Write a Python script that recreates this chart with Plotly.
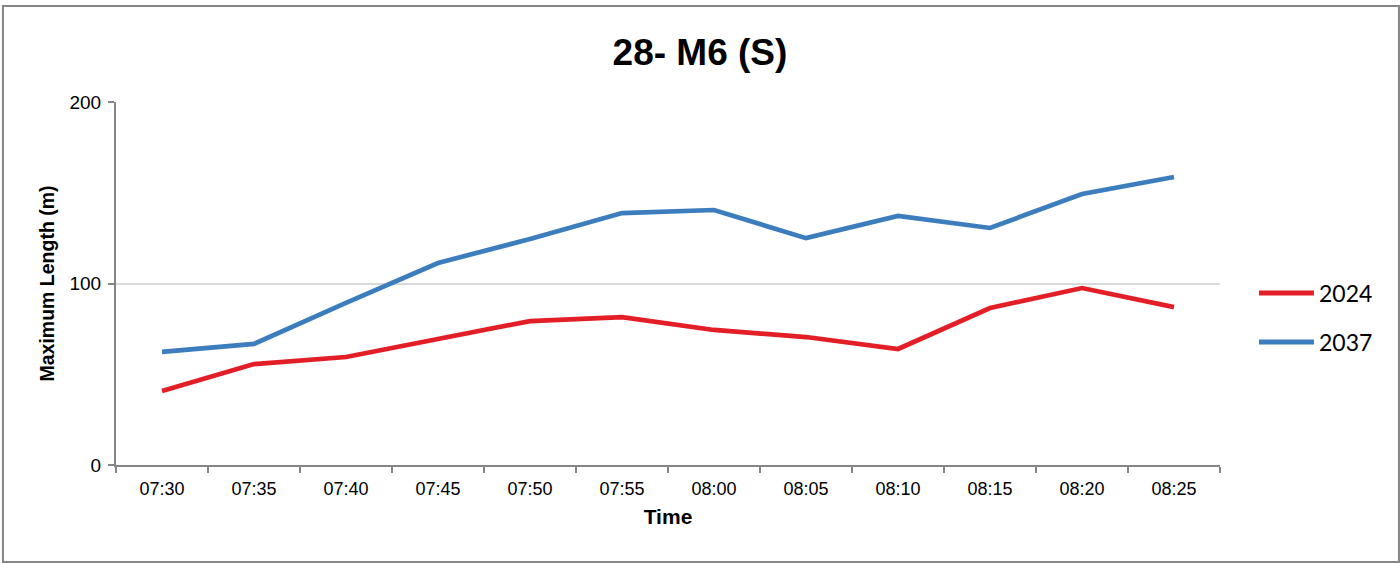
import plotly.graph_objects as go

times = ['07:30', '07:35', '07:40', '07:45', '07:50', '07:55',
         '08:00', '08:05', '08:10', '08:15', '08:20', '08:25']
len_2024 = [40.8, 55.6, 59.5, 69.4, 79.3, 81.5, 74.4, 70.5, 63.9, 86.5, 97.5, 87.0]
len_2037 = [62.3, 66.7, 89.3, 111.3, 124.5, 138.8, 140.5, 125.0, 137.2, 130.6, 149.3, 158.7]

series = [('2024', len_2024, '#e41e26'), ('2037', len_2037, '#3b7dbd')]

fig = go.Figure()
for name, vals, col in series:
    fig.add_trace(go.Scatter(x=times, y=vals, mode='lines', name=name,
                             line=dict(color=col, width=4.7)))

fig.update_layout(
    width=1400, height=563,
    margin=dict(l=116, r=180, t=102, b=98),
    paper_bgcolor='white', plot_bgcolor='white',
    font=dict(family='Liberation Sans, Arial', color='black'),
    title=dict(text='<b>28- M6 (S)</b>', x=0.5, xanchor='center', y=0.908, yanchor='middle',
               font=dict(size=37, family='Liberation Sans, Arial')),
    showlegend=False,
)

fig.update_xaxes(
    type='category', range=[-0.5, len(times) - 0.5], tickson='boundaries',
    ticks='outside', ticklen=6,
    tickcolor='#868686', tickwidth=2, showline=True, linecolor='#868686', linewidth=2,
    showgrid=False, tickfont=dict(size=18), ticklabelstandoff=6,
    title=dict(text='<b>Time</b>', font=dict(size=21), standoff=12),
)
fig.update_yaxes(
    range=[0, 200], tickvals=[0, 100, 200], ticks='outside', ticklen=6,
    tickcolor='#868686', tickwidth=2, showline=True, linecolor='#868686', linewidth=2,
    showgrid=True, gridcolor='#d9d9d9', gridwidth=1.5, zeroline=False,
    tickfont=dict(size=19), ticklabelstandoff=3,
    title=dict(text='<b>Maximum Length (m)</b>', font=dict(size=19.5), standoff=10),
)

# chart border
fig.add_shape(type='rect', xref='paper', yref='paper',
              x0=-0.1024, x1=1.1621, y0=-0.2672, y1=1.2645,
              line=dict(color='#868686', width=2), fillcolor='rgba(0,0,0,0)', layer='below')

# legend drawn by hand so the line keys match length
legend_y = [0.474, 0.339]
for (name, vals, col), ly in zip(series, legend_y):
    fig.add_shape(type='line', xref='paper', yref='paper',
                  x0=1.0353, x1=1.0851, y0=ly, y1=ly,
                  line=dict(color=col, width=5))
    fig.add_annotation(text=name, xref='paper', yref='paper', x=1.0875, y=ly,
                       xanchor='left', yanchor='middle', showarrow=False,
                       font=dict(size=23, family='Lato, Carlito, sans-serif', color='black'))

fig.write_html('out.html', config={'displayModeBar': False},
               post_script="document.body.style.margin='0';")
